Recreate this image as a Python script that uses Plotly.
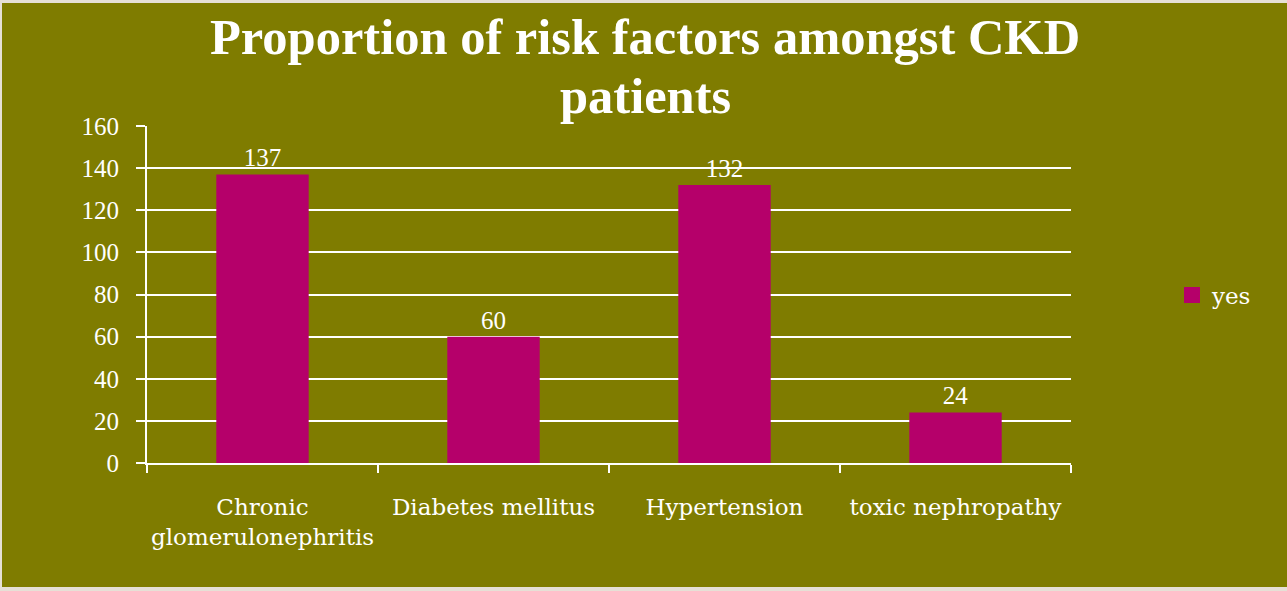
import plotly.graph_objects as go

categories = ["Chronic<br>glomerulonephritis", "Diabetes mellitus", "Hypertension", "toxic nephropathy"]
values_yes = [137, 60, 132, 24]
y_ticks = [0, 20, 40, 60, 80, 100, 120, 140, 160]
title_lines = ["Proportion of risk factors amongst CKD", "patients"]

OLIVE = "#7F7C00"
BAR = "#B5006A"
BEIGE = "#E6E0D6"
NUMFONT = "Liberation Serif, serif"
TXTFONT = "DejaVu Serif, serif"

W, H = 1287, 591
ML, MR, MT, MB = 147, 216, 126, 128
PW, PH = W - ML - MR, H - MT - MB


def py(pix):
    return (H - MB - pix) / PH


def px(pix):
    return (pix - ML) / PW


fig = go.Figure()
fig.add_trace(go.Bar(
    x=categories, y=values_yes, name="yes",
    marker=dict(color=BAR, line=dict(width=0)),
    width=0.4,
    text=[str(v) for v in values_yes], textposition="outside",
    textfont=dict(family=NUMFONT, size=25, color="white"),
    cliponaxis=False, showlegend=False,
))
# legend entry (larger square swatch)
fig.add_trace(go.Scatter(
    x=[None], y=[None], mode="markers", name="yes",
    marker=dict(symbol="square", size=16, color=BAR),
))

fig.update_layout(
    width=W, height=H,
    margin=dict(l=ML, r=MR, t=MT, b=MB, pad=0, autoexpand=False),
    paper_bgcolor=OLIVE, plot_bgcolor=OLIVE,
    font=dict(family=TXTFONT, color="white", size=23),
    showlegend=True,
    legend=dict(x=px(1172), xanchor="left", y=py(295), yanchor="middle",
                font=dict(family=TXTFONT, size=23, color="white"),
                bgcolor="rgba(0,0,0,0)", itemwidth=30),
    xaxis=dict(
        showline=True, linecolor="white", linewidth=2,
        ticks="outside", tickson="boundaries", ticklen=8, tickcolor="white", tickwidth=2,
        showgrid=False, tickfont=dict(family=TXTFONT, size=23, color="white"),
        tickangle=0, automargin=False,
        ticklabelstandoff=22,
    ),
    yaxis=dict(
        range=[0, 160], tickvals=y_ticks,
        showline=True, linecolor="white", linewidth=2,
        ticks="outside", ticklen=9, tickcolor="white", tickwidth=2,
        showgrid=True, gridcolor="white", gridwidth=2,
        zeroline=False, automargin=False,
        ticklabelstandoff=12,
        tickfont=dict(family=NUMFONT, size=25, color="white"),
    ),
    bargap=0.6,
)

for line, ypix in zip(title_lines, [37, 96]):
    fig.add_annotation(text="<b>" + line + "</b>", xref="paper", yref="paper",
                       x=px(645), y=py(ypix), xanchor="center", yanchor="middle",
                       showarrow=False,
                       font=dict(family=NUMFONT, size=50.5, color="white"))

# beige frame around the olive panel
fig.add_shape(type="line", xref="paper", yref="paper",
              x0=px(0), x1=px(W), y0=py(1.5), y1=py(1.5),
              line=dict(color=BEIGE, width=3))
fig.add_shape(type="line", xref="paper", yref="paper",
              x0=px(0), x1=px(W), y0=py(H - 2), y1=py(H - 2),
              line=dict(color=BEIGE, width=4))
fig.add_shape(type="line", xref="paper", yref="paper",
              x0=px(1), x1=px(1), y0=py(H), y1=py(0),
              line=dict(color=BEIGE, width=2))

fig.write_html("out.html", config={"displayModeBar": False},
               post_script="document.body.style.margin='0';document.body.style.overflow='hidden';")
